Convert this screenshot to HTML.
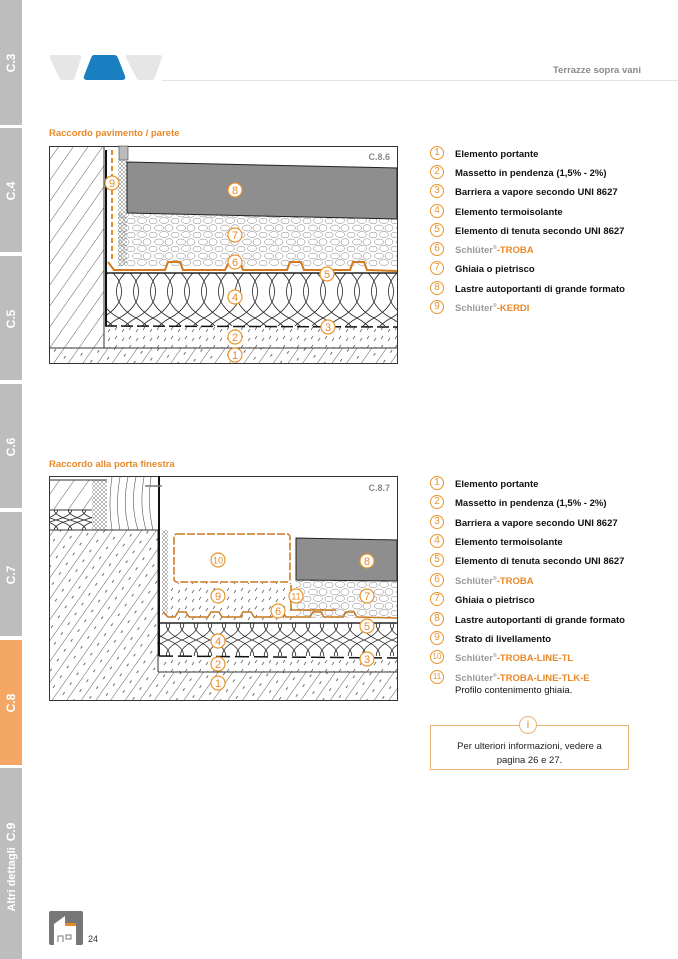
<!DOCTYPE html>
<html><head><meta charset="utf-8"><style>
*{margin:0;padding:0;box-sizing:border-box}
body{width:678px;height:959px;background:#fff;position:relative;overflow:hidden;font-family:"Liberation Sans",Arial,sans-serif}
.tab{position:absolute;left:0;width:22px;background:#bdbdbd}
.tl{position:absolute;left:0;width:22px;color:#fff;font-weight:bold;font-size:12px;white-space:nowrap;transform:rotate(-90deg);transform-origin:center;text-align:center}
.ttl{position:absolute;left:49px;color:#e8892a;font-weight:bold;font-size:9.5px}
.leg{position:absolute;left:430px;font-size:9.5px;font-weight:bold;color:#111;white-space:nowrap}
.leg .c{position:absolute;left:0;top:-3px;width:14px;height:14px;border:1.2px solid #e8952f;border-radius:50%;color:#e8952f;font-weight:normal;font-size:10px;line-height:12px;text-align:center}
.leg .t{position:absolute;left:25px;top:0}
.g{color:#9a9a9a;font-weight:bold}.o{color:#e8892a}
</style></head><body>
<div class="tab" style="top:0;height:125px"></div>
<div class="tab" style="top:128px;height:124px"></div>
<div class="tab" style="top:256px;height:124px"></div>
<div class="tab" style="top:384px;height:124px"></div>
<div class="tab" style="top:512px;height:124px"></div>
<div class="tab" style="top:640px;height:125px;background:#f5a865"></div>
<div class="tab" style="top:768px;height:191px"></div>
<div class="tl" style="top:56px">C.3</div>
<div class="tl" style="top:184px">C.4</div>
<div class="tl" style="top:312px">C.5</div>
<div class="tl" style="top:440px">C.6</div>
<div class="tl" style="top:568px">C.7</div>
<div class="tl" style="top:696px">C.8</div>
<div class="tl" style="top:860px;left:-50px;width:122px;font-size:11px">Altri dettagli&nbsp; <span style="font-size:12px">C.9</span></div>

<svg style="position:absolute;left:0;top:0" width="678" height="100">
<path d="M52 55 L78 55 Q82 55 81 58 L75 77 Q74 80 71 80 L63 80 Q60 80 59 77 L50 58 Q49 55 52 55Z" fill="#e6e6e6"/>
<path d="M94 55 L114 55 Q117 55 118 58 L125 76 Q126 80 122 80 L87 80 Q83 80 84 76 L91 58 Q92 55 94 55Z" fill="#1a7fc0"/>
<path d="M128 55 L159 55 Q163 55 162 58 L155 77 Q154 80 151 80 L140 80 Q137 80 136 77 L126 58 Q125 55 128 55Z" fill="#e6e6e6"/>
<line x1="162" y1="80.5" x2="678" y2="80.5" stroke="#e2e2e2"/>
<text x="641" y="73" text-anchor="end" font-size="9.5" font-weight="bold" fill="#8a8a8a" font-family="Liberation Sans">Terrazze sopra vani</text>
</svg>

<div class="ttl" style="top:128px">Raccordo pavimento / parete</div>
<div class="ttl" style="top:459px">Raccordo alla porta finestra</div>

<svg style="position:absolute;left:0;top:0" width="678" height="959">
<defs>
<pattern id="h" width="12" height="12" patternUnits="userSpaceOnUse" patternTransform="rotate(35)"><line x1="0" y1="0" x2="0" y2="12" stroke="#333" stroke-width="0.8"/></pattern>
<pattern id="hd" width="12" height="12" patternUnits="userSpaceOnUse" patternTransform="rotate(35)"><line x1="0" y1="0" x2="0" y2="12" stroke="#333" stroke-width="0.8"/><line x1="6" y1="2" x2="6" y2="5" stroke="#444" stroke-width="0.8"/></pattern>
<pattern id="sc" width="14" height="9" patternUnits="userSpaceOnUse"><line x1="3" y1="6" x2="5" y2="3" stroke="#555" stroke-width="0.7"/><line x1="10" y1="8" x2="12" y2="5" stroke="#555" stroke-width="0.7"/></pattern>
<pattern id="ins" width="17" height="53" patternUnits="userSpaceOnUse"><path d="M0 0 C26 14 26 39 0 53 M17 0 C-9 14 -9 39 17 53 M-17 0 C9 14 9 39 -17 53 M34 0 C8 14 8 39 34 53" fill="none" stroke="#222" stroke-width="0.8"/></pattern>
<pattern id="ins2" width="14" height="32" patternUnits="userSpaceOnUse"><path d="M0 0 C21 9 21 23 0 32 M14 0 C-7 9 -7 23 14 32 M-14 0 C7 9 7 23 -14 32 M28 0 C7 9 7 23 28 32" fill="none" stroke="#222" stroke-width="0.8"/></pattern>
<pattern id="ins3" width="14" height="20" patternUnits="userSpaceOnUse"><path d="M0 0 C21 6 21 14 0 20 M14 0 C-7 6 -7 14 14 20 M-14 0 C7 6 7 14 -14 20 M28 0 C7 6 7 14 28 20" fill="none" stroke="#222" stroke-width="0.8"/></pattern>
<pattern id="gr" width="22" height="14" patternUnits="userSpaceOnUse"><ellipse cx="5" cy="4" rx="4.5" ry="3" fill="none" stroke="#777" stroke-width="0.5"/><ellipse cx="15" cy="4" rx="4" ry="3.3" fill="none" stroke="#777" stroke-width="0.5"/><ellipse cx="10" cy="10.5" rx="4.5" ry="3" fill="none" stroke="#777" stroke-width="0.5"/><ellipse cx="20" cy="11" rx="3" ry="2.5" fill="none" stroke="#777" stroke-width="0.5"/><ellipse cx="1" cy="11" rx="2" ry="2.5" fill="none" stroke="#777" stroke-width="0.5"/></pattern>
<pattern id="xs" width="4" height="4" patternUnits="userSpaceOnUse"><path d="M0 0L4 4M4 0L0 4" stroke="#777" stroke-width="0.5"/></pattern>
</defs>
<g font-family="Liberation Sans" >
<!-- Diagram 1 -->
<rect x="49.5" y="146.5" width="348" height="217" fill="#fff" stroke="#333"/>
<rect x="50" y="147" width="54" height="201" fill="url(#h)"/>
<line x1="104" y1="147" x2="104" y2="348" stroke="#333"/>
<rect x="50" y="348" width="347" height="15" fill="url(#hd)"/>
<line x1="50" y1="348" x2="397" y2="348" stroke="#333"/>
<rect x="105" y="326" width="292" height="22" fill="url(#sc)"/>
<rect x="105" y="273" width="292" height="53" fill="url(#ins)"/>
<line x1="105" y1="273" x2="397" y2="273" stroke="#222" stroke-width="1.5"/>
<line x1="105" y1="326" x2="397" y2="327" stroke="#111" stroke-width="1.5" stroke-dasharray="12 4"/>
<line x1="106" y1="150" x2="106" y2="326" stroke="#111" stroke-width="2"/>
<rect x="118" y="160" width="9" height="106" fill="url(#xs)"/>
<rect x="118" y="213" width="279" height="53" fill="url(#gr)"/>
<path d="M127 162 L397 168 L397 219 L127 213 Z" fill="#8e8e8e" stroke="#222"/>
<rect x="119" y="146" width="9" height="14" fill="#bbb" stroke="#444" stroke-width="0.6"/>
<line x1="112" y1="150" x2="112" y2="262" stroke="#e8892a" stroke-width="2" stroke-dasharray="5 3"/>
<path d="M108 262 L114 270 L165 270 L168 262 L180 262 L183 270 L225 270 L229 262 L240 262 L243 270 L287 270 L290 262 L301 262 L304 270 L350 270 L353 262 L364 262 L367 270 L397 271" fill="none" stroke="#d27a1f" stroke-width="2"/>
<text x="390" y="160" text-anchor="end" font-size="9" font-weight="bold" fill="#888">C.8.6</text>

<!-- Diagram 2 -->
<rect x="49.5" y="476.5" width="348" height="224" fill="#fff" stroke="#333"/>
<rect x="50" y="480" width="42" height="30" fill="url(#h)"/>
<rect x="50" y="510" width="42" height="20" fill="url(#ins3)"/>
<rect x="92" y="480" width="15" height="50" fill="url(#xs)"/>
<line x1="50" y1="480" x2="107" y2="480" stroke="#333"/>
<line x1="50" y1="510" x2="92" y2="510" stroke="#333"/>
<path d="M112 477 Q108 505 112 530 M120 477 Q115 505 120 530 M128 477 Q122 505 129 530 M136 477 Q130 505 138 530 M144 477 Q139 505 146 530 M151 477 Q147 505 153 530" fill="none" stroke="#555" stroke-width="0.6"/>
<rect x="50" y="530" width="108" height="170" fill="url(#hd)"/>
<rect x="158" y="672" width="239" height="28" fill="url(#hd)"/>
<line x1="50" y1="530" x2="158" y2="530" stroke="#333"/>
<line x1="158" y1="672" x2="397" y2="672" stroke="#333"/>
<line x1="158" y1="530" x2="158" y2="672" stroke="#333"/>
<rect x="159" y="656" width="238" height="16" fill="url(#sc)"/>
<rect x="159" y="623" width="238" height="33" fill="url(#ins2)"/>
<line x1="159" y1="623" x2="397" y2="623" stroke="#222" stroke-width="1.5"/>
<line x1="159" y1="656" x2="397" y2="658" stroke="#111" stroke-width="1.5" stroke-dasharray="14 5"/>
<line x1="159" y1="476" x2="159" y2="656" stroke="#111" stroke-width="2"/>
<rect x="162" y="530" width="6" height="85" fill="url(#xs)"/>
<rect x="168" y="583" width="128" height="37" fill="url(#sc)"/>
<rect x="296" y="580" width="101" height="38" fill="url(#gr)"/>
<path d="M296 538 L397 540 L397 581 L296 580 Z" fill="#8e8e8e" stroke="#222"/>
<rect x="174" y="534" width="116" height="48" rx="3" fill="#fff" stroke="#c9781f" stroke-width="1.5" stroke-dasharray="8 2"/>
<line x1="291" y1="585" x2="291" y2="610" stroke="#c9781f" stroke-width="1.5"/>
<line x1="291" y1="610" x2="336" y2="610" stroke="#c9781f" stroke-width="1.5"/>
<path d="M163 612 L168 617 L175 617 L178 612 L186 612 L189 617 L208 617 L211 612 L219 612 L222 617 L240 617 L243 612 L251 612 L254 617 L272 617 L275 612 L283 612 L286 617 L310 617 L313 612 L321 612 L324 617 L343 617 L346 612 L354 612 L357 617 L397 618" fill="none" stroke="#c9781f" stroke-width="1.5"/>
<line x1="145" y1="486" x2="162" y2="486" stroke="#777" stroke-width="1.5"/>
<text x="390" y="491" text-anchor="end" font-size="9" font-weight="bold" fill="#888">C.8.7</text>
</g>
<g font-family="Liberation Sans" font-size="11" fill="#e8892a" text-anchor="middle">
<g fill="#fff" stroke="#e8952f" stroke-width="1.2">
<circle cx="235" cy="355" r="7"/><circle cx="235" cy="337" r="7"/><circle cx="328" cy="327" r="7"/><circle cx="235" cy="297" r="7"/><circle cx="327" cy="274" r="7"/><circle cx="235" cy="262" r="7"/><circle cx="235" cy="235" r="7"/><circle cx="235" cy="190" r="7"/><circle cx="112" cy="183" r="7"/>
<circle cx="218" cy="683" r="7"/><circle cx="218" cy="664" r="7"/><circle cx="367" cy="659" r="7"/><circle cx="218" cy="641" r="7"/><circle cx="367" cy="626" r="7"/><circle cx="278" cy="611" r="7"/><circle cx="367" cy="596" r="7"/><circle cx="367" cy="561" r="7"/><circle cx="218" cy="596" r="7"/><circle cx="218" cy="560" r="7"/><circle cx="296" cy="596" r="7"/>
</g>
<text x="235" y="359">1</text><text x="235" y="341">2</text><text x="328" y="331">3</text><text x="235" y="301">4</text><text x="327" y="278">5</text><text x="235" y="266">6</text><text x="235" y="239">7</text><text x="235" y="194">8</text><text x="112" y="187">9</text>
<text x="218" y="687">1</text><text x="218" y="668">2</text><text x="367" y="663">3</text><text x="218" y="645">4</text><text x="367" y="630">5</text><text x="278" y="615">6</text><text x="367" y="600">7</text><text x="367" y="565">8</text><text x="218" y="600">9</text><text x="218" y="563.5" font-size="9">10</text><text x="296" y="599.5" font-size="9">11</text>
</g>
</svg>

<div class="leg" style="top:149px"><span class="c">1</span><span class="t">Elemento portante</span></div>
<div class="leg" style="top:168px"><span class="c">2</span><span class="t">Massetto in pendenza (1,5% - 2%)</span></div>
<div class="leg" style="top:187px"><span class="c">3</span><span class="t">Barriera a vapore secondo UNI 8627</span></div>
<div class="leg" style="top:207px"><span class="c">4</span><span class="t">Elemento termoisolante</span></div>
<div class="leg" style="top:226px"><span class="c">5</span><span class="t">Elemento di tenuta secondo UNI 8627</span></div>
<div class="leg" style="top:245px"><span class="c">6</span><span class="t"><span class="g">Schlüter<sup style="font-size:5px">®</sup></span><span class="o">-TROBA</span></span></div>
<div class="leg" style="top:264px"><span class="c">7</span><span class="t">Ghiaia o pietrisco</span></div>
<div class="leg" style="top:284px"><span class="c">8</span><span class="t">Lastre autoportanti di grande formato</span></div>
<div class="leg" style="top:303px"><span class="c">9</span><span class="t"><span class="g">Schlüter<sup style="font-size:5px">®</sup></span><span class="o">-KERDI</span></span></div>

<div class="leg" style="top:479px"><span class="c">1</span><span class="t">Elemento portante</span></div>
<div class="leg" style="top:498px"><span class="c">2</span><span class="t">Massetto in pendenza (1,5% - 2%)</span></div>
<div class="leg" style="top:518px"><span class="c">3</span><span class="t">Barriera a vapore secondo UNI 8627</span></div>
<div class="leg" style="top:537px"><span class="c">4</span><span class="t">Elemento termoisolante</span></div>
<div class="leg" style="top:556px"><span class="c">5</span><span class="t">Elemento di tenuta secondo UNI 8627</span></div>
<div class="leg" style="top:576px"><span class="c">6</span><span class="t"><span class="g">Schlüter<sup style="font-size:5px">®</sup></span><span class="o">-TROBA</span></span></div>
<div class="leg" style="top:595px"><span class="c">7</span><span class="t">Ghiaia o pietrisco</span></div>
<div class="leg" style="top:615px"><span class="c">8</span><span class="t">Lastre autoportanti di grande formato</span></div>
<div class="leg" style="top:634px"><span class="c">9</span><span class="t">Strato di livellamento</span></div>
<div class="leg" style="top:653px"><span class="c" style="font-size:8px">10</span><span class="t"><span class="g">Schlüter<sup style="font-size:5px">®</sup></span><span class="o">-TROBA-LINE-TL</span></span></div>
<div class="leg" style="top:673px"><span class="c" style="font-size:8px">11</span><span class="t"><span class="g">Schlüter<sup style="font-size:5px">®</sup></span><span class="o">-TROBA-LINE-TLK-E</span></span></div>
<div class="leg" style="top:685px;font-weight:normal"><span class="t">Profilo contenimento ghiaia.</span></div>

<div style="position:absolute;left:430px;top:725px;width:199px;height:45px;border:1px solid #e8b274"></div>
<div style="position:absolute;left:519px;top:716px;width:18px;height:18px;border:1px solid #e8b274;border-radius:50%;background:#fff;color:#e8892a;font-size:11px;text-align:center;line-height:16px">i</div>
<div style="position:absolute;left:430px;top:740px;width:199px;text-align:center;font-size:9.5px;line-height:14px;color:#222">Per ulteriori informazioni, vedere a<br>pagina 26 e 27.</div>

<svg style="position:absolute;left:49px;top:911px" width="34" height="34">
<rect width="34" height="34" rx="2" fill="#777"/>
<path d="M5 34 L5 13 L16 5 L16 14 L27 14 L27 34 Z" fill="#fff"/>
<rect x="16" y="12" width="11" height="3" fill="#e8892a"/>
<path d="M9 31 L9 25 L14 25 L14 31" fill="none" stroke="#777" stroke-width="1"/>
<rect x="17" y="24" width="5" height="4" fill="none" stroke="#777" stroke-width="1"/>
</svg>
<div style="position:absolute;left:88px;top:934px;font-size:9px;color:#333">24</div>
</body></html>
